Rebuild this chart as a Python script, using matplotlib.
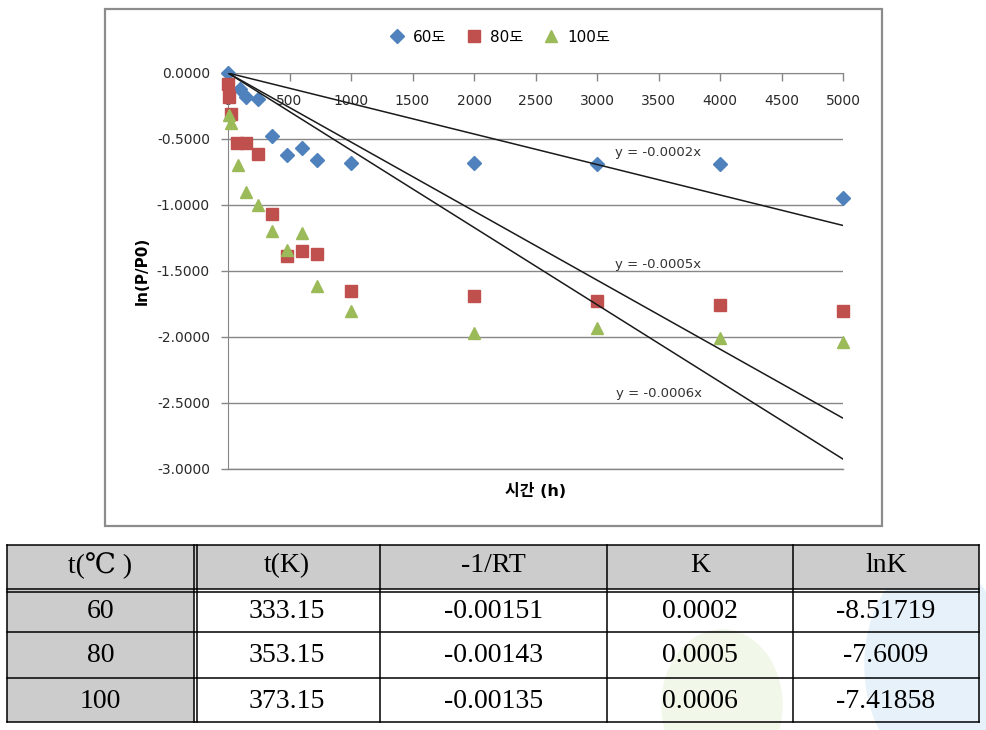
import matplotlib
matplotlib.use('Agg')
import matplotlib.pyplot as plt
from matplotlib.patches import Rectangle, Ellipse
from matplotlib.ticker import FuncFormatter, MultipleLocator

plt.rcParams['font.family'] = ['DejaVu Sans', 'Noto Sans CJK KR']

# series
t60 = [0, 96, 144, 240, 360, 480, 600, 720, 1000, 2000, 3000, 4000, 5000]
v60 = [0.0, -0.12, -0.18, -0.20, -0.48, -0.62, -0.57, -0.66, -0.68, -0.68, -0.69, -0.69, -0.95]
t80 = [0, 12, 24, 72, 144, 240, 360, 480, 600, 720, 1000, 2000, 3000, 4000, 5000]
v80 = [-0.08, -0.18, -0.31, -0.53, -0.53, -0.61, -1.07, -1.39, -1.35, -1.37, -1.65, -1.69, -1.73, -1.76, -1.80]
t100 = [12, 24, 84, 144, 240, 360, 480, 600, 720, 1000, 2000, 3000, 4000, 5000]
v100 = [-0.32, -0.38, -0.70, -0.90, -1.00, -1.20, -1.34, -1.21, -1.61, -1.80, -1.97, -1.93, -2.01, -2.04]

series_names = ['60도', '80도', '100도']
trend_slopes = [-0.000231, -0.000523, -0.000585]
trend_labels = ['y = -0.0002x', 'y = -0.0005x', 'y = -0.0006x']
trend_label_pos = [(3500, -0.60), (3500, -1.45), (3500, -2.43)]

table_header = ['t(℃ )', 't(K)', '-1/RT', 'K', 'lnK']
table_rows = [
    ['60', '333.15', '-0.00151', '0.0002', '-8.51719'],
    ['80', '353.15', '-0.00143', '0.0005', '-7.6009'],
    ['100', '373.15', '-0.00135', '0.0006', '-7.41858'],
]

W, H = 986, 730
fig = plt.figure(figsize=(W / 100, H / 100), dpi=100)

# pixel-space overlay for frame and table
bg = fig.add_axes([0, 0, 1, 1], zorder=0)
bg.set_xlim(0, W)
bg.set_ylim(H, 0)
bg.axis('off')
bg.patch.set_alpha(0)

# faint watermark behind the table
bg.add_patch(Ellipse((722, 705), 120, 150, color='#f1f8ea', zorder=0))
bg.add_patch(Ellipse((935, 665), 140, 210, color='#e6f1f9', zorder=0))

# chart frame
bg.add_patch(Rectangle((105, 9), 777, 517, fill=False, ec='#8c8c8c', lw=1.6))

ax = fig.add_axes([228 / W, 1 - 469 / H, 615 / W, 396 / H], zorder=1)
ax.patch.set_alpha(0)

ax.plot(t60, v60, 'D', color='#4f81bd', ms=6.8, label=series_names[0], clip_on=False, zorder=3)
ax.plot(t80, v80, 's', color='#c0504d', ms=9.2, label=series_names[1], clip_on=False, zorder=3)
ax.plot(t100, v100, '^', color='#9bbb59', ms=9.2, label=series_names[2], clip_on=False, zorder=3)

for s, lab, (lx, ly) in zip(trend_slopes, trend_labels, trend_label_pos):
    ax.plot([0, 5000], [0, s * 5000], color='#1a1a1a', lw=1.1, zorder=4)
    ax.text(lx, ly, lab, fontsize=9.5, color='#333333', ha='center', va='center', zorder=5)

ax.set_xlim(0, 5000)
ax.set_ylim(-3, 0)
ax.xaxis.set_major_locator(MultipleLocator(500))
ax.yaxis.set_major_locator(MultipleLocator(0.5))
ax.yaxis.set_major_formatter(FuncFormatter(lambda v, p: f'{v:.4f}'))

for sp in ['top', 'right']:
    ax.spines[sp].set_visible(False)
ax.spines['bottom'].set_position(('data', 0))
ax.spines['bottom'].set_color('#868686')
ax.spines['left'].set_color('#868686')
ax.grid(axis='y', color='#868686', lw=1)
ax.axhline(-3, color='#868686', lw=1, clip_on=False, zorder=1.5)
ax.tick_params(axis='x', direction='out', length=6, width=1, color='#868686',
               pad=9, labelsize=10, labelcolor='#2a2a2a')
ax.tick_params(axis='y', direction='out', length=5, width=1, color='#868686',
               pad=8, labelsize=10, labelcolor='#2a2a2a')

ax.set_ylabel('ln(P/P0)', fontsize=11, fontweight='bold')
ax.yaxis.set_label_coords(-(228 - 150) / 615, 0.5)
ax.set_xlabel('시간 (h)', fontsize=11.5, fontweight='bold')
ax.xaxis.set_label_coords(0.5, -(483 - 469) / 396)

fig.legend(loc='center', bbox_to_anchor=(496 / W, 1 - 37 / H), ncol=3, frameon=False,
           fontsize=11, handletextpad=0.05, columnspacing=0.8, borderpad=0)

# table grid
col_x = [7, 194, 380, 607, 793, 979]
row_y = [545, 589, 632, 678, 722]
bg.add_patch(Rectangle((col_x[0], row_y[0]), col_x[-1] - col_x[0], row_y[1] - row_y[0],
                       color='#cccccc', lw=0))
bg.add_patch(Rectangle((col_x[0], row_y[1]), col_x[1] - col_x[0], row_y[-1] - row_y[1],
                       color='#cccccc', lw=0))
for y in row_y:
    bg.plot([col_x[0], col_x[-1]], [y, y], color='black', lw=1.1)
bg.plot([col_x[0], col_x[-1]], [row_y[1] + 2.5, row_y[1] + 2.5], color='black', lw=1.1)
for x in col_x:
    bg.plot([x, x], [row_y[0], row_y[-1]], color='black', lw=1.1)
bg.plot([col_x[1] + 3, col_x[1] + 3], [row_y[0], row_y[-1]], color='black', lw=1.1)

centers = [(col_x[i] + col_x[i + 1]) / 2 for i in range(5)]
all_rows = [table_header] + table_rows
for r, row in enumerate(all_rows):
    cy = (row_y[r] + row_y[r + 1]) / 2 + (1 if r else -1)
    for c, txt in enumerate(row):
        bg.text(centers[c], cy, txt, ha='center', va='center', fontsize=20,
                family=['Liberation Serif', 'DejaVu Serif', 'Noto Sans CJK KR'], color='black')

fig.savefig('out.png', dpi=100)
